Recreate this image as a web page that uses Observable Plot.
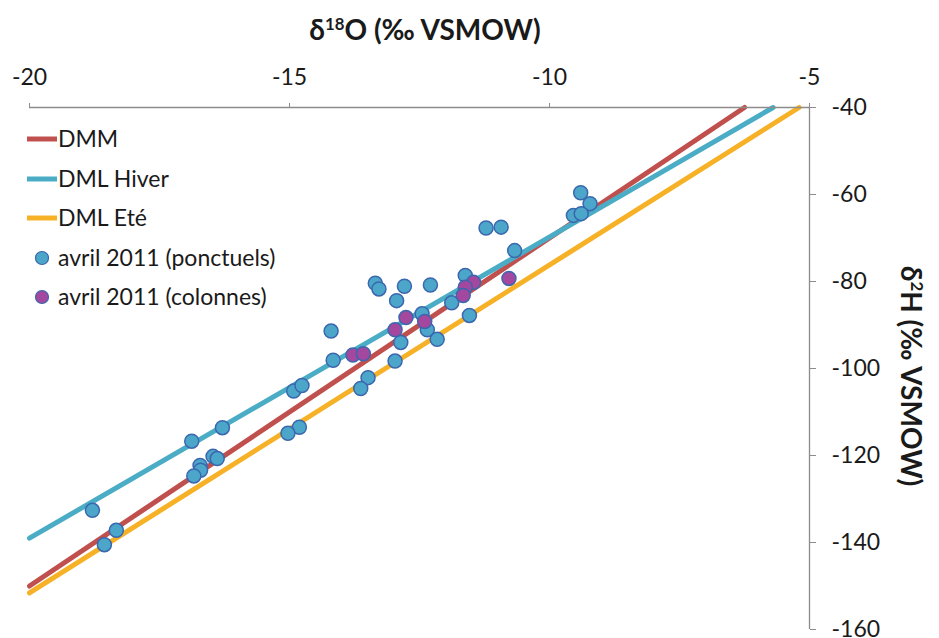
<!DOCTYPE html>
<html>
<head>
<meta charset="utf-8">
<script src="https://cdn.jsdelivr.net/npm/d3@7"></script>
<script src="https://cdn.jsdelivr.net/npm/@observablehq/plot@0.6"></script>
<style>
  html, body { margin: 0; padding: 0; background: #fff; }
  #wrap { position: relative; width: 939px; height: 638px; font-family: Lato, "Open Sans", sans-serif; color: #1a1a1a; overflow: hidden; }
  #title { position: absolute; left: 0; width: 850px; top: 12px; text-align: center; font-weight: bold; font-size: 28px; }
  #title sup, #ylab sup { font-size: 0.6em; }
  #ylab { position: absolute; left: 912px; top: 376px; transform: translate(-50%, -50%) rotate(90deg); white-space: nowrap; font-weight: bold; font-size: 28px; }
  #legend { position: absolute; left: 0; top: 0; }
</style>
</head>
<body>
<div id="wrap">
  <div id="chart"></div>
  <div id="title">δ<sup>18</sup>O (‰ VSMOW)</div>
  <div id="ylab">δ<sup>2</sup>H (‰ VSMOW)</div>
  <svg id="legend" width="330" height="320"></svg>
</div>
<script>
// Axis ticks
const xTicks = [-20, -15, -10, -5];
const yTicks = [-40, -60, -80, -100, -120, -140, -160];

// Lines (end points)
const dmmX = [-20, -6.25];
const dmmY = [-150, -40];
const hiverX = [-20, -5.7];
const hiverY = [-139, -40];
const eteX = [-20, -5.2];
const eteY = [-151.6, -40];

// avril 2011 (ponctuels)
const pontX = [-11.22, -10.93, -10.67, -13.35, -13.28, -12.79, -12.29, -12.94, -11.62, -11.88,
               -14.20, -12.45, -12.35, -12.16, -12.86, -11.54, -14.16, -12.97, -13.49, -13.63,
               -14.92, -14.76, -9.40, -9.22, -9.54, -9.39, -16.29, -16.88, -14.81, -15.03,
               -16.47, -16.39, -16.72, -16.71, -16.84, -18.79, -18.33, -18.56];
const pontY = [-67.7, -67.5, -72.9, -80.4, -81.7, -81.1, -80.8, -84.4, -78.6, -84.9,
               -91.4, -87.4, -91.1, -93.3, -94.0, -87.8, -98.1, -98.3, -102.1, -104.6,
               -105.2, -103.9, -59.6, -62.1, -64.8, -64.4, -113.6, -116.7, -113.5, -114.9,
               -120.2, -120.7, -122.3, -123.4, -124.7, -132.6, -137.2, -140.5];

// avril 2011 (colonnes)
const colX = [-10.78, -11.46, -11.62, -11.66, -12.76, -12.97, -12.40, -13.78, -13.58];
const colY = [-79.3, -80.2, -81.3, -83.2, -88.3, -91.1, -89.2, -96.9, -96.6];

const series = [
  {name: "DMM", color: "#C0504D", xs: dmmX, ys: dmmY},
  {name: "DML Hiver", color: "#4BACC6", xs: hiverX, ys: hiverY},
  {name: "DML Eté", color: "#F6B127", xs: eteX, ys: eteY}
];
const points = [
  {name: "avril 2011 (ponctuels)", color: "#4BA6CA", xs: pontX, ys: pontY},
  {name: "avril 2011 (colonnes)", color: "#A4479F", xs: colX, ys: colY}
];

const toRows = s => s.xs.map((x, i) => ({x, y: s.ys[i]}));
const fmt = d => String(d).replace("−", "-");

const marks = [];
for (const s of series) {
  marks.push(Plot.line(toRows(s), {x: "x", y: "y", stroke: s.color, strokeWidth: 5}));
}
for (const p of points) {
  marks.push(Plot.dot(toRows(p), {x: "x", y: "y", r: 7, fill: p.color, stroke: "#3B67AE", strokeWidth: 1.5}));
}
marks.push(Plot.ruleY([-40], {stroke: "#8c8c8c", strokeWidth: 1.3}));
marks.push(Plot.ruleX([-5], {stroke: "#8c8c8c", strokeWidth: 1.3}));
marks.push(Plot.axisX({anchor: "top", ticks: xTicks, tickSize: 5, tickPadding: 18, label: null,
  fontSize: 23, stroke: "#8c8c8c", fill: "#1a1a1a", tickFormat: fmt}));
marks.push(Plot.axisY({anchor: "right", ticks: yTicks, tickSize: 6, tickPadding: 16, label: null,
  fontSize: 23, stroke: "#8c8c8c", fill: "#1a1a1a", tickFormat: fmt}));

const chart = Plot.plot({
  width: 939,
  height: 638,
  marginLeft: 29,
  marginRight: 130,
  marginTop: 107,
  marginBottom: 9,
  x: {domain: [-20, -5]},
  y: {domain: [-160, -40]},
  style: {fontFamily: "Lato, 'Open Sans', sans-serif", background: "white", color: "#1a1a1a", overflow: "visible"},
  marks
});
document.getElementById("chart").appendChild(chart);

// Legend
const leg = d3.select("#legend");
const rowsY = [139, 179, 218, 258, 297];
series.forEach((s, i) => {
  leg.append("line").attr("x1", 27).attr("x2", 57).attr("y1", rowsY[i]).attr("y2", rowsY[i])
    .attr("stroke", s.color).attr("stroke-width", 5);
  leg.append("text").attr("x", 58).attr("y", rowsY[i]).attr("dy", "0.36em")
    .attr("font-size", 23).attr("fill", "#1a1a1a").attr("font-family", "Lato, 'Open Sans', sans-serif").text(s.name);
});
points.forEach((p, j) => {
  const i = j + 3;
  leg.append("circle").attr("cx", 42).attr("cy", rowsY[i]).attr("r", 6.5)
    .attr("fill", p.color).attr("stroke", "#3B67AE").attr("stroke-width", 1.2);
  leg.append("text").attr("x", 58).attr("y", rowsY[i]).attr("dy", "0.36em")
    .attr("font-size", 23).attr("fill", "#1a1a1a").attr("font-family", "Lato, 'Open Sans', sans-serif").text(p.name);
});
</script>
</body>
</html>
